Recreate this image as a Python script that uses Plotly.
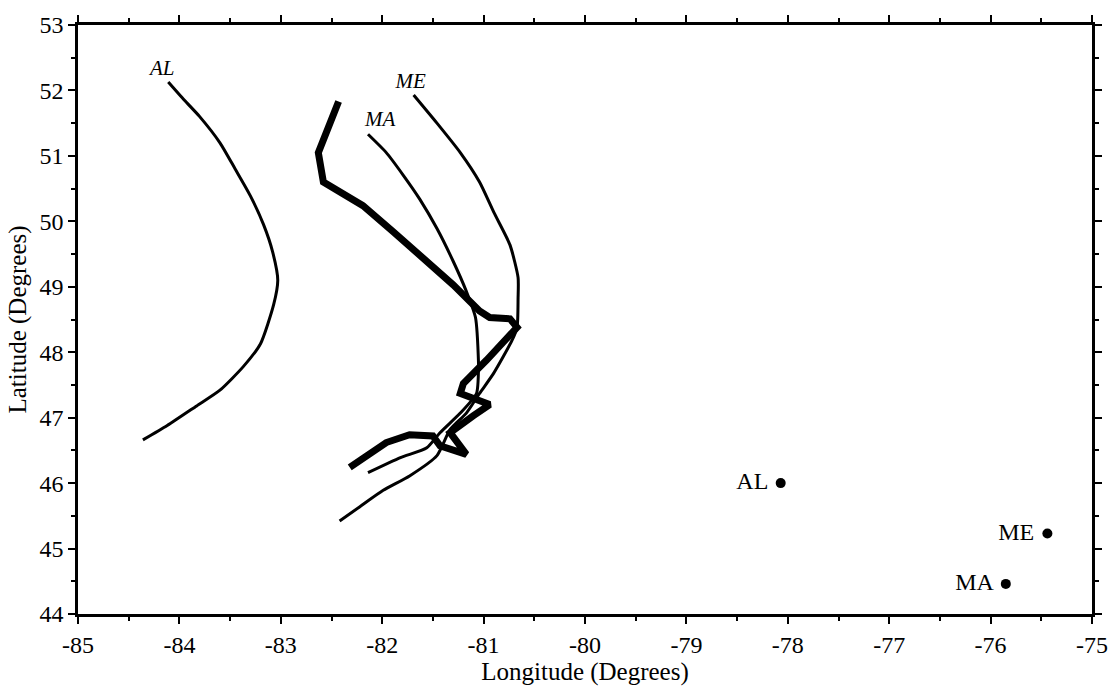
import plotly.graph_objects as go

# Trajectory tracks (longitude, latitude in degrees)
al_lon = [-84.11, -83.95, -83.80, -83.60, -83.45, -83.30, -83.17, -83.08, -83.03,
          -83.07, -83.20, -83.37, -83.60, -83.83, -84.12, -84.36]
al_lat = [52.13, 51.85, 51.60, 51.20, 50.80, 50.39, 49.95, 49.53, 49.10,
          48.73, 48.13, 47.78, 47.42, 47.18, 46.88, 46.66]

me_lon = [-81.69, -81.46, -81.23, -81.04, -80.90, -80.74, -80.66, -80.66, -80.67,
          -80.72, -80.90, -81.04, -81.17, -81.33, -81.46, -81.73, -81.99, -82.22, -82.42]
me_lat = [51.93, 51.50, 51.05, 50.60, 50.14, 49.64, 49.14, 48.83, 48.38,
          48.18, 47.68, 47.37, 47.07, 46.82, 46.42, 46.11, 45.89, 45.64, 45.42]

ma_lon = [-82.14, -81.96, -81.79, -81.63, -81.46, -81.30, -81.17, -81.08, -81.05,
          -81.05, -81.07, -81.23, -81.43, -81.56, -81.82, -82.14]
ma_lat = [51.33, 51.05, 50.70, 50.34, 49.89, 49.39, 48.93, 48.53, 47.83,
          47.78, 47.37, 47.07, 46.77, 46.54, 46.39, 46.16]

obs_lon = [-82.43, -82.53, -82.63, -82.58, -82.19, -81.89, -81.59, -81.30, -81.04,
           -80.94, -80.74, -80.67, -80.97, -81.20, -81.23, -81.10, -80.94, -81.10,
           -81.33, -81.17, -81.43, -81.50, -81.73, -81.96, -82.15, -82.32]
obs_lat = [51.83, 51.41, 51.05, 50.60, 50.24, 49.84, 49.44, 49.03, 48.63,
           48.53, 48.51, 48.38, 47.88, 47.52, 47.37, 47.30, 47.20, 47.03,
           46.77, 46.44, 46.57, 46.72, 46.74, 46.62, 46.42, 46.24]

# Track labels near the starting ends
track_names = ["AL", "ME", "MA"]
track_label_lon = [-84.17, -81.72, -82.02]
track_label_lat = [52.31, 52.12, 51.53]

# Receptor sites
site_names = ["AL", "ME", "MA"]
site_lon = [-78.07, -75.44, -75.85]
site_lat = [46.00, 45.23, 44.46]

# Axis tick values and labels (plain hyphen minus)
lon_ticks = [-85, -84, -83, -82, -81, -80, -79, -78, -77, -76, -75]
lon_ticktext = ["-85", "-84", "-83", "-82", "-81", "-80", "-79", "-78", "-77", "-76", "-75"]
lat_ticks = [44, 45, 46, 47, 48, 49, 50, 51, 52, 53]
lat_ticktext = ["44", "45", "46", "47", "48", "49", "50", "51", "52", "53"]

serif = "Liberation Serif, Times New Roman, serif"

fig = go.Figure()
for lon, lat in [(al_lon, al_lat), (me_lon, me_lat), (ma_lon, ma_lat)]:
    fig.add_trace(go.Scatter(x=lon, y=lat, mode="lines",
                             line=dict(color="black", width=3, shape="spline", smoothing=0.6),
                             showlegend=False, hoverinfo="skip"))
fig.add_trace(go.Scatter(x=obs_lon, y=obs_lat, mode="lines",
                         line=dict(color="black", width=7),
                         showlegend=False, hoverinfo="skip"))

fig.add_trace(go.Scatter(x=track_label_lon, y=track_label_lat, mode="text",
                         text=track_names, textposition="middle center",
                         textfont=dict(family=serif, size=21, color="black", style="italic"),
                         showlegend=False, hoverinfo="skip"))

fig.add_trace(go.Scatter(x=site_lon, y=site_lat, mode="markers+text",
                         text=[n + " " for n in site_names], textposition="middle left",
                         marker=dict(color="black", size=10),
                         textfont=dict(family=serif, size=24, color="black"),
                         showlegend=False, hoverinfo="skip"))

axis_common = dict(
    showgrid=False, zeroline=False, showline=True, linecolor="black", linewidth=2.5,
    mirror="allticks", ticks="outside", ticklen=7, tickwidth=2, tickcolor="black",
    tickfont=dict(family=serif, size=24, color="black"),
    minor=dict(ticks="outside", ticklen=4, tickwidth=2, tickcolor="black", dtick=0.5),
)

fig.update_xaxes(range=[-85, -75], tickmode="array", tickvals=lon_ticks, ticktext=lon_ticktext,
                 title=dict(text="Longitude (Degrees)", font=dict(family=serif, size=25, color="black"),
                            standoff=4),
                 **axis_common)
fig.update_yaxes(range=[44, 53], tickmode="array", tickvals=lat_ticks, ticktext=lat_ticktext,
                 title=dict(text="Latitude (Degrees)", font=dict(family=serif, size=25, color="black"),
                            standoff=6),
                 **axis_common)

fig.update_layout(width=1120, height=696, plot_bgcolor="white", paper_bgcolor="white",
                  margin=dict(l=78, r=28, t=18, b=82))

fig.write_html("out.html")
